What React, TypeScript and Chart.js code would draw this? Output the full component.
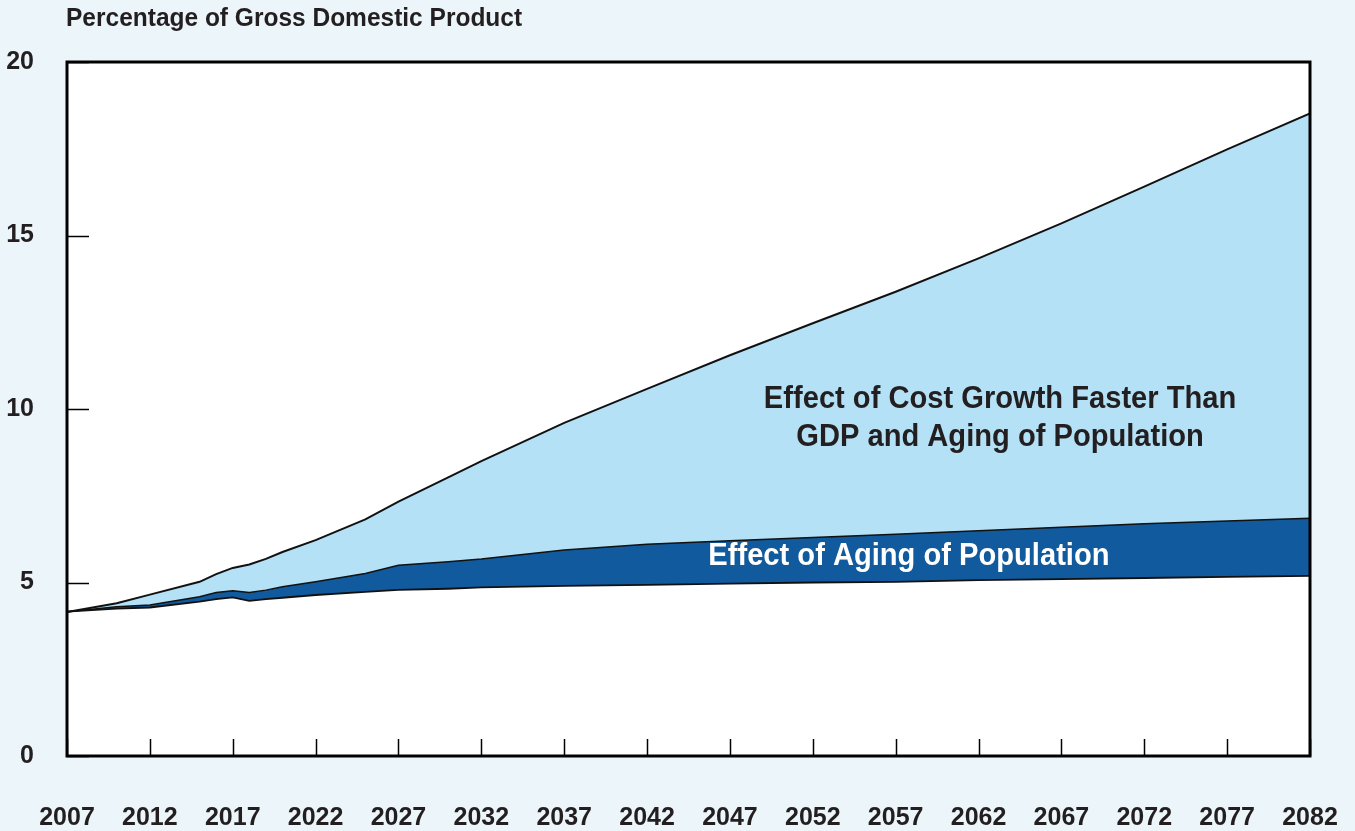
import React, { useEffect, useRef } from "react";
import { Chart, registerables } from "chart.js";
Chart.register(...registerables);

// ---- data (percentage of GDP) ----
const years = [2007, 2010, 2012, 2015, 2016, 2017, 2018, 2019, 2020, 2022, 2025, 2027, 2030, 2032, 2037, 2042, 2047, 2052, 2057, 2062, 2067, 2072, 2077, 2082];
const baseline = [4.16, 4.25, 4.28, 4.45, 4.52, 4.57, 4.47, 4.52, 4.56, 4.64, 4.73, 4.79, 4.82, 4.86, 4.9, 4.93, 4.97, 5.0, 5.02, 5.07, 5.1, 5.13, 5.16, 5.19];
const withAging = [4.16, 4.3, 4.35, 4.59, 4.71, 4.76, 4.71, 4.78, 4.88, 5.02, 5.26, 5.5, 5.6, 5.68, 5.94, 6.1, 6.2, 6.3, 6.39, 6.49, 6.59, 6.69, 6.77, 6.85];
const withCostGrowth = [4.15, 4.4, 4.65, 5.02, 5.24, 5.42, 5.52, 5.68, 5.88, 6.22, 6.82, 7.33, 8.03, 8.5, 9.6, 10.58, 11.55, 12.47, 13.38, 14.34, 15.35, 16.41, 17.48, 18.52];

const xMin = 2007;
const xMax = 2082;
const xStep = 5;
const yMin = 0;
const yMax = 20;
const yStep = 5;

const titleText = "Percentage of Gross Domestic Product";
const costLabel = ["Effect of Cost Growth Faster Than", "GDP and Aging of Population"];
const agingLabel = "Effect of Aging of Population";

// ---- styles ----
const BG = "#ECF6FA";
const LIGHT = "#B4E1F6";
const DARK = "#115A9D";
const INK = "#231F20";
const FONT = "'Liberation Sans', Arial, sans-serif";

const W = 1355;
const H = 831;

function condensedText(ctx: CanvasRenderingContext2D, text: string, x: number, y: number, sx: number) {
  ctx.save();
  ctx.translate(x, y);
  ctx.scale(sx, 1);
  ctx.fillText(text, 0, 0);
  ctx.restore();
}

export default function App() {
  const ref = useRef<HTMLCanvasElement | null>(null);

  useEffect(() => {
    document.body.style.margin = "0";
    document.body.style.background = BG;
    const canvas = ref.current;
    if (!canvas) return;

    const toPts = (vals: number[]) => vals.map((v, i) => ({ x: years[i], y: v }));

    const decor = {
      id: "decor",
      beforeDraw(chart: any) {
        const { ctx, chartArea: a } = chart;
        ctx.save();
        ctx.fillStyle = BG;
        ctx.fillRect(0, 0, chart.width, chart.height);
        ctx.fillStyle = "#ffffff";
        ctx.fillRect(a.left, a.top, a.right - a.left, a.bottom - a.top);
        ctx.restore();
      },
      afterDraw(chart: any) {
        const { ctx, chartArea: a, scales } = chart;
        const xs = scales.x;
        const ys = scales.y;
        ctx.save();
        // inward tick marks
        ctx.strokeStyle = "#000";
        ctx.lineWidth = 1.5;
        xs.ticks.forEach((t: any) => {
          const px = Math.round(xs.getPixelForValue(t.value)) + 0.5;
          ctx.beginPath();
          ctx.moveTo(px, a.bottom);
          ctx.lineTo(px, a.bottom - 17);
          ctx.stroke();
        });
        ys.ticks.forEach((t: any) => {
          const py = Math.round(ys.getPixelForValue(t.value)) + 0.5;
          ctx.beginPath();
          ctx.moveTo(a.left, py);
          ctx.lineTo(a.left + 22, py);
          ctx.stroke();
        });
        // frame
        ctx.lineWidth = 3;
        ctx.strokeRect(a.left, a.top, a.right - a.left, a.bottom - a.top);

        // title
        ctx.fillStyle = INK;
        ctx.font = `bold 25px ${FONT}`;
        ctx.textAlign = "left";
        ctx.textBaseline = "middle";
        condensedText(ctx, titleText, a.left - 1, 19, 0.98);

        // annotations
        ctx.font = `bold 32px ${FONT}`;
        ctx.textAlign = "center";
        const cx = xs.getPixelForValue(2063.3);
        condensedText(ctx, costLabel[0], cx, ys.getPixelForValue(10.29), 0.91);
        condensedText(ctx, costLabel[1], cx, ys.getPixelForValue(9.2), 0.91);
        ctx.fillStyle = "#ffffff";
        condensedText(ctx, agingLabel, xs.getPixelForValue(2057.8), ys.getPixelForValue(5.77), 0.91);
        ctx.restore();
      },
    };

    const chart = new Chart(canvas, {
      type: "line",
      data: {
        datasets: [
          {
            label: "Baseline",
            data: toPts(baseline),
            borderColor: "#111",
            borderWidth: 1.8,
            pointRadius: 0,
            fill: false,
            tension: 0,
          },
          {
            label: "Effect of Aging of Population",
            data: toPts(withAging),
            borderColor: "#111",
            borderWidth: 1.5,
            backgroundColor: DARK,
            pointRadius: 0,
            fill: "-1",
            tension: 0,
          },
          {
            label: "Effect of Cost Growth Faster Than GDP and Aging of Population",
            data: toPts(withCostGrowth),
            borderColor: "#111",
            borderWidth: 2,
            backgroundColor: LIGHT,
            pointRadius: 0,
            fill: "-1",
            tension: 0,
          },
        ],
      },
      options: {
        responsive: false,
        animation: false,
        layout: { padding: { top: 62, right: 45, left: 0, bottom: 0 } },
        plugins: { legend: { display: false }, tooltip: { enabled: false }, title: { display: false } },
        scales: {
          x: {
            type: "linear",
            min: xMin,
            max: xMax,
            afterFit: (s: any) => {
              s.height = 75;
              s.paddingLeft = 0;
              s.paddingRight = 0;
            },
            ticks: {
              stepSize: xStep,
              color: INK,
              font: { family: FONT, size: 25, weight: "bold" },
              padding: 47,
              maxRotation: 0,
              autoSkip: false,
              callback: (v: any) => String(v),
            },
            grid: { display: false, drawTicks: false },
            border: { display: false },
          },
          y: {
            min: yMin,
            max: yMax,
            afterFit: (s: any) => {
              s.width = 67;
              s.paddingTop = 0;
              s.paddingBottom = 0;
            },
            ticks: {
              stepSize: yStep,
              color: INK,
              font: { family: FONT, size: 25, weight: "bold" },
              padding: 33,
            },
            grid: { display: false, drawTicks: false },
            border: { display: false },
          },
        },
      },
      plugins: [decor],
    });
    return () => chart.destroy();
  }, []);

  return (
    <div style={{ width: W, height: H, background: BG }}>
      <canvas ref={ref} width={W} height={H} style={{ display: "block" }} />
    </div>
  );
}
